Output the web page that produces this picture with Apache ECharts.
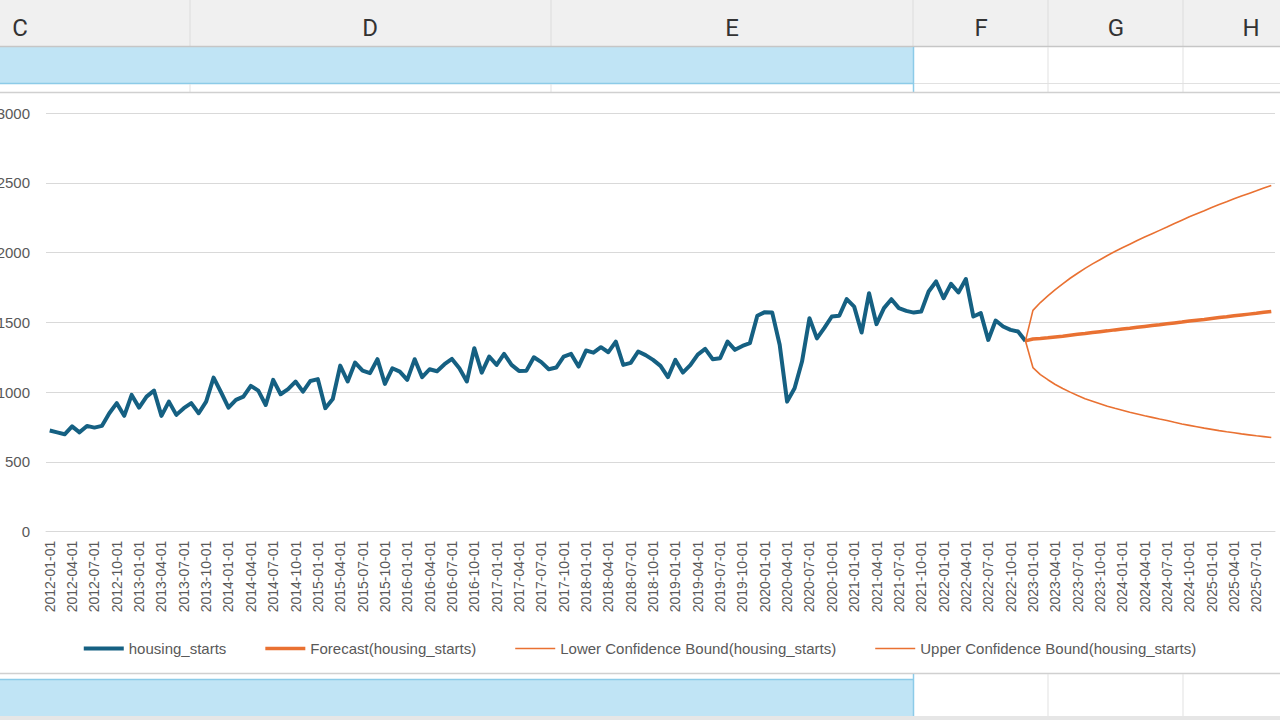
<!DOCTYPE html>
<html>
<head>
<meta charset="utf-8">
<script src="https://cdn.jsdelivr.net/npm/echarts@6/dist/echarts.min.js"></script>
<style>
html,body{margin:0;padding:0;background:#fff;}
#chart{width:1280px;height:720px;}
</style>
</head>
<body>
<div id="chart"></div>
<script>
// ---- data ----
const startYear = 2012, endYear = 2025, endMonth = 9;
const categories = [];
for (let y = startYear; y <= endYear; y++) {
  for (let m = 1; m <= 12; m++) {
    if (y === endYear && m > endMonth) break;
    categories.push(y + '-' + String(m).padStart(2, '0') + '-01');
  }
}
const housingStarts = [
  725, 712, 698, 755, 712, 758, 746, 758, 849, 921, 830, 980,
  889, 968, 1011, 830, 932, 837, 885, 921, 849, 932, 1104, 999,
  889, 945, 968, 1045, 1011, 908, 1088, 985, 1021, 1076, 1004, 1080,
  1093, 885, 951, 1190, 1076, 1212, 1154, 1136, 1236, 1059, 1171, 1147,
  1088, 1236, 1107, 1164, 1150, 1200, 1238, 1171, 1076, 1315, 1140, 1255,
  1195, 1274, 1195, 1152, 1154, 1250, 1215, 1164, 1176, 1255, 1274, 1183,
  1298, 1283, 1322, 1286, 1362, 1195, 1210, 1291, 1265, 1231, 1188, 1107,
  1231, 1140, 1193, 1269, 1310, 1236, 1243, 1362, 1303, 1331, 1351, 1547,
  1573, 1570, 1339, 932, 1028, 1219, 1530, 1385, 1460, 1542, 1547, 1666,
  1613, 1427, 1709, 1487, 1602, 1666, 1602, 1582, 1570, 1577, 1721, 1793,
  1673, 1776, 1714, 1810, 1542, 1566, 1374, 1513, 1470, 1446, 1434, 1367
];
// forecast values start at the last actual month (2022-12-01)
const forecastValues = [
  1367, 1381, 1384, 1389, 1395, 1401, 1408, 1414, 1420, 1427, 1433, 1439,
  1446, 1452, 1458, 1465, 1471, 1477, 1483, 1490, 1496, 1502, 1509, 1515,
  1521, 1528, 1534, 1540, 1547, 1553, 1559, 1565, 1572, 1578
];
const lowerBound = [
  1367, 1176, 1126, 1089, 1055, 1026, 1000, 976, 953, 935, 917, 899,
  884, 870, 856, 844, 831, 819, 807, 797, 784, 772, 762, 752,
  742, 733, 724, 716, 709, 701, 694, 687, 681, 675
];
const upperBound = [
  1367, 1586, 1642, 1689, 1735, 1776, 1816, 1852, 1887, 1919, 1949, 1979,
  2008, 2034, 2060, 2086, 2111, 2135, 2159, 2183, 2208, 2232, 2256, 2278,
  2300, 2323, 2344, 2364, 2385, 2405, 2424, 2443, 2463, 2481
];
const seriesNames = ['housing_starts', 'Forecast(housing_starts)', 'Lower Confidence Bound(housing_starts)', 'Upper Confidence Bound(housing_starts)'];
const columnLetters = ['C', 'D', 'E', 'F', 'G', 'H'];
const yMax = 3000, yInterval = 500;

// ---- build aligned series ----
const forecastStart = categories.indexOf('2022-12-01');
function pad(arr, start) {
  const out = new Array(categories.length).fill(null);
  arr.forEach((v, i) => { if (start + i < out.length) out[start + i] = v; });
  return out;
}

// ---- spreadsheet frame ----
const colSep = [190, 551, 913, 1048, 1183];
const colCenters = [20, 370, 732, 981, 1116, 1251];
const blue = '#c0e4f5', blueBorder = '#8ccbe8', cellLine = '#e1e1e1';
const frame = [];
frame.push({type: 'rect', shape: {x: 0, y: 0, width: 1280, height: 46}, style: {fill: '#f0f0f0'}, silent: true, z: -10});
colSep.forEach(x => frame.push({type: 'line', shape: {x1: x, y1: 0, x2: x, y2: 46}, style: {stroke: '#dcdcdc', lineWidth: 1}, silent: true, z: -9}));
frame.push({type: 'line', shape: {x1: 0, y1: 46.5, x2: 1280, y2: 46.5}, style: {stroke: '#c6c6c6', lineWidth: 1.5}, silent: true, z: -9});
columnLetters.forEach((c, i) => frame.push({type: 'text', x: colCenters[i], y: 28, style: {text: c, fill: '#333333', font: '24px Roboto, "Noto Sans", sans-serif', align: 'center', verticalAlign: 'middle'}, silent: true, z: -8}));
frame.push({type: 'rect', shape: {x: 0, y: 47, width: 913, height: 36}, style: {fill: blue}, silent: true, z: -10});
frame.push({type: 'line', shape: {x1: 0, y1: 83.5, x2: 913, y2: 83.5}, style: {stroke: blueBorder, lineWidth: 1.5}, silent: true, z: -9});
frame.push({type: 'line', shape: {x1: 913, y1: 83.5, x2: 1280, y2: 83.5}, style: {stroke: cellLine, lineWidth: 1}, silent: true, z: -9});
[190, 551].forEach(x => frame.push({type: 'line', shape: {x1: x, y1: 84, x2: x, y2: 92}, style: {stroke: cellLine, lineWidth: 1}, silent: true, z: -9}));
[1048, 1183].forEach(x => frame.push({type: 'line', shape: {x1: x, y1: 47, x2: x, y2: 92}, style: {stroke: cellLine, lineWidth: 1}, silent: true, z: -9}));
frame.push({type: 'line', shape: {x1: 913.5, y1: 47, x2: 913.5, y2: 92}, style: {stroke: blueBorder, lineWidth: 1.5}, silent: true, z: -9});
frame.push({type: 'line', shape: {x1: 0, y1: 92.5, x2: 1280, y2: 92.5}, style: {stroke: '#d0d0d0', lineWidth: 1.5}, silent: true, z: -9});
frame.push({type: 'line', shape: {x1: 0, y1: 673.5, x2: 1280, y2: 673.5}, style: {stroke: '#d0d0d0', lineWidth: 1.5}, silent: true, z: -9});
frame.push({type: 'rect', shape: {x: 0, y: 679, width: 913, height: 37}, style: {fill: blue}, silent: true, z: -10});
frame.push({type: 'line', shape: {x1: 0, y1: 679.5, x2: 913, y2: 679.5}, style: {stroke: blueBorder, lineWidth: 1.5}, silent: true, z: -9});
frame.push({type: 'line', shape: {x1: 913.5, y1: 674, x2: 913.5, y2: 716}, style: {stroke: blueBorder, lineWidth: 1.5}, silent: true, z: -9});
[1048, 1183].forEach(x => frame.push({type: 'line', shape: {x1: x, y1: 674, x2: x, y2: 716}, style: {stroke: cellLine, lineWidth: 1}, silent: true, z: -9}));
frame.push({type: 'rect', shape: {x: 0, y: 716, width: 1280, height: 4}, style: {fill: '#e6e6e6'}, silent: true, z: -10});

const txt = '#595959';
const font = '"Liberation Sans", Arial, sans-serif';
const thickIcon = 'path://M0,0L40,0L40,4L0,4Z';
const midIcon = 'path://M0,0L40,0L40,3.5L0,3.5Z';
const thinIcon = 'path://M0,0L40,0L40,1.6L0,1.6Z';
const chart = echarts.init(document.getElementById('chart'), null, {renderer: 'svg'});
chart.setOption({
  animation: false,
  backgroundColor: '#ffffff',
  graphic: {elements: frame},
  grid: {left: 46, right: 5, top: 113, bottom: 188.3, containLabel: false, outerBoundsMode: 'none'},
  legend: {
    data: [
      {name: seriesNames[0], icon: thickIcon},
      {name: seriesNames[1], icon: midIcon},
      {name: seriesNames[2], icon: thinIcon},
      {name: seriesNames[3], icon: thinIcon}
    ],
    top: 636, left: 'center',
    itemWidth: 40, itemHeight: 14, itemGap: 39, symbolKeepAspect: true,
    textStyle: {color: txt, fontSize: 15, fontFamily: font}
  },
  xAxis: {
    type: 'category', data: categories, boundaryGap: true,
    axisLine: {show: true, lineStyle: {color: '#d9d9d9', width: 1}},
    axisTick: {show: false},
    axisLabel: {interval: 2, rotate: 90, margin: 9, color: txt, fontSize: 14, fontFamily: font},
    splitLine: {show: false}
  },
  yAxis: {
    type: 'value', min: 0, max: yMax, interval: yInterval,
    axisLine: {show: false}, axisTick: {show: false},
    axisLabel: {margin: 16, color: txt, fontSize: 15, fontFamily: font, formatter: v => String(v)},
    splitLine: {lineStyle: {color: '#d9d9d9', width: 1}}
  },
  series: [
    {name: seriesNames[0], type: 'line', data: pad(housingStarts, 0), symbol: 'none',
     lineStyle: {color: '#156082', width: 4, join: 'round'}, itemStyle: {color: '#156082'}, z: 2},
    {name: seriesNames[1], type: 'line', data: pad(forecastValues, forecastStart), symbol: 'none',
     lineStyle: {color: '#E97132', width: 3.5}, itemStyle: {color: '#E97132'}, z: 3},
    {name: seriesNames[2], type: 'line', data: pad(lowerBound, forecastStart), symbol: 'none',
     lineStyle: {color: '#E97132', width: 1.6}, itemStyle: {color: '#E97132'}, z: 3},
    {name: seriesNames[3], type: 'line', data: pad(upperBound, forecastStart), symbol: 'none',
     lineStyle: {color: '#E97132', width: 1.6}, itemStyle: {color: '#E97132'}, z: 3}
  ]
});
</script>
</body>
</html>
